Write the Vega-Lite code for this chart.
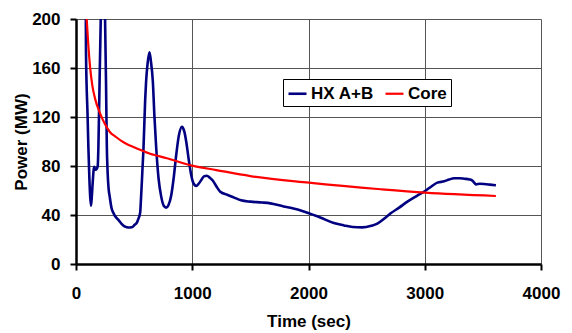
{
  "$schema": "https://vega.github.io/schema/vega-lite/v6.json",
  "width": 465,
  "height": 245,
  "autosize": {"type": "none"},
  "padding": {"left": 76, "top": 19, "right": 31, "bottom": 69},
  "background": "white",
  "config": {
    "view": {"stroke": null},
    "font": "Liberation Sans",
    "axis": {
      "labelFont": "Liberation Sans",
      "labelFontWeight": "bold",
      "labelFontSize": 17,
      "labelColor": "black",
      "titleFont": "Liberation Sans",
      "titleFontWeight": "bold",
      "titleFontSize": 17,
      "titleColor": "black",
      "domainColor": "black",
      "domainWidth": 2.5,
      "tickColor": "black",
      "tickWidth": 2,
      "tickSize": 6,
      "grid": true,
      "gridColor": "#555555",
      "gridWidth": 1
    },
    "legend": {
      "labelFont": "Liberation Sans",
      "labelFontWeight": "bold",
      "labelFontSize": 17,
      "labelColor": "black"
    }
  },
  "data": {
    "values": [
      {"t": 84, "p": 215, "s": "HX A+B"},
      {"t": 86, "p": 172, "s": "HX A+B"},
      {"t": 100, "p": 120, "s": "HX A+B"},
      {"t": 106, "p": 97, "s": "HX A+B"},
      {"t": 115, "p": 70, "s": "HX A+B"},
      {"t": 122, "p": 55, "s": "HX A+B"},
      {"t": 129, "p": 47.6, "s": "HX A+B"},
      {"t": 136, "p": 55, "s": "HX A+B"},
      {"t": 144, "p": 67, "s": "HX A+B"},
      {"t": 152, "p": 77, "s": "HX A+B"},
      {"t": 158, "p": 79.4, "s": "HX A+B"},
      {"t": 165, "p": 77, "s": "HX A+B"},
      {"t": 172, "p": 77, "s": "HX A+B"},
      {"t": 180, "p": 78, "s": "HX A+B"},
      {"t": 187, "p": 80, "s": "HX A+B"},
      {"t": 193, "p": 97, "s": "HX A+B"},
      {"t": 203, "p": 150, "s": "HX A+B"},
      {"t": 213, "p": 200, "s": "HX A+B"},
      {"t": 222, "p": 240, "s": "HX A+B"},
      {"t": 231, "p": 250, "s": "HX A+B"},
      {"t": 240, "p": 240, "s": "HX A+B"},
      {"t": 250, "p": 200, "s": "HX A+B"},
      {"t": 258, "p": 150, "s": "HX A+B"},
      {"t": 265, "p": 97, "s": "HX A+B"},
      {"t": 272, "p": 75, "s": "HX A+B"},
      {"t": 280, "p": 62, "s": "HX A+B"},
      {"t": 290, "p": 55, "s": "HX A+B"},
      {"t": 305, "p": 46, "s": "HX A+B"},
      {"t": 322, "p": 41.6, "s": "HX A+B"},
      {"t": 340, "p": 38.5, "s": "HX A+B"},
      {"t": 365, "p": 36, "s": "HX A+B"},
      {"t": 390, "p": 33, "s": "HX A+B"},
      {"t": 422, "p": 30.5, "s": "HX A+B"},
      {"t": 450, "p": 29.8, "s": "HX A+B"},
      {"t": 480, "p": 30, "s": "HX A+B"},
      {"t": 505, "p": 32, "s": "HX A+B"},
      {"t": 525, "p": 34, "s": "HX A+B"},
      {"t": 537, "p": 37, "s": "HX A+B"},
      {"t": 552, "p": 42, "s": "HX A+B"},
      {"t": 560, "p": 55, "s": "HX A+B"},
      {"t": 566, "p": 66, "s": "HX A+B"},
      {"t": 573, "p": 80, "s": "HX A+B"},
      {"t": 580, "p": 93, "s": "HX A+B"},
      {"t": 595, "p": 134, "s": "HX A+B"},
      {"t": 603, "p": 149, "s": "HX A+B"},
      {"t": 615, "p": 163, "s": "HX A+B"},
      {"t": 632, "p": 172.8, "s": "HX A+B"},
      {"t": 645, "p": 165, "s": "HX A+B"},
      {"t": 661, "p": 149, "s": "HX A+B"},
      {"t": 675, "p": 120, "s": "HX A+B"},
      {"t": 690, "p": 94.7, "s": "HX A+B"},
      {"t": 710, "p": 70, "s": "HX A+B"},
      {"t": 733, "p": 55, "s": "HX A+B"},
      {"t": 755, "p": 47.5, "s": "HX A+B"},
      {"t": 776, "p": 46, "s": "HX A+B"},
      {"t": 795, "p": 48, "s": "HX A+B"},
      {"t": 819, "p": 56, "s": "HX A+B"},
      {"t": 840, "p": 70, "s": "HX A+B"},
      {"t": 862, "p": 89, "s": "HX A+B"},
      {"t": 885, "p": 105, "s": "HX A+B"},
      {"t": 912, "p": 112, "s": "HX A+B"},
      {"t": 932, "p": 108, "s": "HX A+B"},
      {"t": 948, "p": 100, "s": "HX A+B"},
      {"t": 970, "p": 85, "s": "HX A+B"},
      {"t": 991, "p": 72.7, "s": "HX A+B"},
      {"t": 1010, "p": 66, "s": "HX A+B"},
      {"t": 1034, "p": 63.7, "s": "HX A+B"},
      {"t": 1055, "p": 65.5, "s": "HX A+B"},
      {"t": 1078, "p": 68.6, "s": "HX A+B"},
      {"t": 1100, "p": 71.5, "s": "HX A+B"},
      {"t": 1126, "p": 72, "s": "HX A+B"},
      {"t": 1150, "p": 70.5, "s": "HX A+B"},
      {"t": 1178, "p": 68, "s": "HX A+B"},
      {"t": 1210, "p": 63, "s": "HX A+B"},
      {"t": 1241, "p": 59, "s": "HX A+B"},
      {"t": 1300, "p": 56.5, "s": "HX A+B"},
      {"t": 1356, "p": 54.4, "s": "HX A+B"},
      {"t": 1420, "p": 52, "s": "HX A+B"},
      {"t": 1500, "p": 50.9, "s": "HX A+B"},
      {"t": 1600, "p": 50.2, "s": "HX A+B"},
      {"t": 1672, "p": 49.5, "s": "HX A+B"},
      {"t": 1787, "p": 47, "s": "HX A+B"},
      {"t": 1845, "p": 46, "s": "HX A+B"},
      {"t": 1920, "p": 44, "s": "HX A+B"},
      {"t": 2003, "p": 41.5, "s": "HX A+B"},
      {"t": 2100, "p": 38, "s": "HX A+B"},
      {"t": 2218, "p": 33.5, "s": "HX A+B"},
      {"t": 2305, "p": 31.5, "s": "HX A+B"},
      {"t": 2380, "p": 30.2, "s": "HX A+B"},
      {"t": 2463, "p": 29.9, "s": "HX A+B"},
      {"t": 2540, "p": 31.2, "s": "HX A+B"},
      {"t": 2592, "p": 33, "s": "HX A+B"},
      {"t": 2650, "p": 37, "s": "HX A+B"},
      {"t": 2707, "p": 41.4, "s": "HX A+B"},
      {"t": 2780, "p": 46, "s": "HX A+B"},
      {"t": 2851, "p": 50.9, "s": "HX A+B"},
      {"t": 2930, "p": 55.5, "s": "HX A+B"},
      {"t": 3003, "p": 59.6, "s": "HX A+B"},
      {"t": 3060, "p": 63.5, "s": "HX A+B"},
      {"t": 3109, "p": 66.4, "s": "HX A+B"},
      {"t": 3167, "p": 67.5, "s": "HX A+B"},
      {"t": 3210, "p": 69, "s": "HX A+B"},
      {"t": 3253, "p": 70, "s": "HX A+B"},
      {"t": 3300, "p": 70, "s": "HX A+B"},
      {"t": 3339, "p": 69.6, "s": "HX A+B"},
      {"t": 3385, "p": 69, "s": "HX A+B"},
      {"t": 3411, "p": 68, "s": "HX A+B"},
      {"t": 3425, "p": 66.5, "s": "HX A+B"},
      {"t": 3440, "p": 65, "s": "HX A+B"},
      {"t": 3475, "p": 65.5, "s": "HX A+B"},
      {"t": 3511, "p": 65.3, "s": "HX A+B"},
      {"t": 3560, "p": 64.8, "s": "HX A+B"},
      {"t": 3612, "p": 64.2, "s": "HX A+B"},
      {"t": 85, "p": 210, "s": "Core"},
      {"t": 92, "p": 200, "s": "Core"},
      {"t": 105, "p": 180, "s": "Core"},
      {"t": 121, "p": 161, "s": "Core"},
      {"t": 140, "p": 146, "s": "Core"},
      {"t": 164, "p": 135, "s": "Core"},
      {"t": 207, "p": 123, "s": "Core"},
      {"t": 250, "p": 114, "s": "Core"},
      {"t": 293, "p": 107.5, "s": "Core"},
      {"t": 340, "p": 104, "s": "Core"},
      {"t": 390, "p": 100.5, "s": "Core"},
      {"t": 440, "p": 97.8, "s": "Core"},
      {"t": 494, "p": 95.5, "s": "Core"},
      {"t": 638, "p": 90, "s": "Core"},
      {"t": 782, "p": 86.3, "s": "Core"},
      {"t": 1000, "p": 80.3, "s": "Core"},
      {"t": 1207, "p": 76.7, "s": "Core"},
      {"t": 1500, "p": 71.8, "s": "Core"},
      {"t": 2003, "p": 66.4, "s": "Core"},
      {"t": 2621, "p": 61, "s": "Core"},
      {"t": 3003, "p": 58.2, "s": "Core"},
      {"t": 3612, "p": 55.5, "s": "Core"}
    ]
  },
  "mark": {"type": "line", "clip": true, "interpolate": "monotone"},
  "encoding": {
    "x": {
      "field": "t",
      "type": "quantitative",
      "scale": {"domain": [0, 4000], "nice": false},
      "axis": {
        "title": "Time (sec)",
        "values": [0, 1000, 2000, 3000, 4000],
        "format": "d",
        "labelPadding": 15,
        "titlePadding": 12,
        "labelFlush": false
      }
    },
    "y": {
      "field": "p",
      "type": "quantitative",
      "scale": {"domain": [0, 200], "nice": false},
      "axis": {
        "title": "Power (MW)",
        "values": [0, 40, 80, 120, 160, 200],
        "format": "d",
        "labelPadding": 10,
        "titlePadding": 1,
        "labelFlush": false
      }
    },
    "color": {
      "field": "s",
      "type": "nominal",
      "scale": {"domain": ["HX A+B", "Core"], "range": ["#000080", "#FF0000"]},
      "legend": {
        "title": null,
        "orient": "none",
        "legendX": 207,
        "legendY": 60,
        "direction": "horizontal",
        "strokeColor": "black",
        "fillColor": "white",
        "padding": 4,
        "symbolType": "stroke",
        "symbolSize": 324,
        "symbolStrokeWidth": 2.5,
        "labelOffset": 3,
        "columnPadding": 7
      }
    },
    "strokeWidth": {
      "field": "s",
      "type": "nominal",
      "scale": {"domain": ["HX A+B", "Core"], "range": [2.6, 2.2]},
      "legend": null
    }
  }
}
